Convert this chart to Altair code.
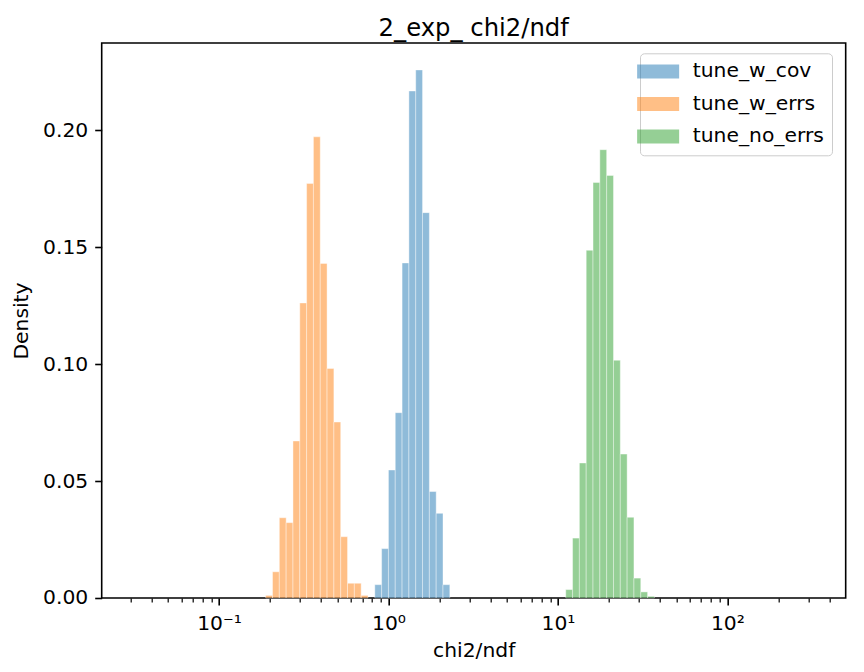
import altair as alt
import pandas as pd

# ---- data ----
series_names = ["tune_w_cov", "tune_w_errs", "tune_no_errs"]
series_colors = ["#1f77b4", "#ff7f0e", "#2ca02c"]

# common log-spaced bin grid: log10 of first edge and log10 bin width
bin_lo_log10 = -0.7246
bin_w_log10 = 0.04024

w_cov_start = 16
w_cov = [0.0057, 0.0211, 0.0547, 0.0792, 0.1432, 0.2167, 0.2257, 0.1647,
         0.0455, 0.0362, 0.0057]
w_errs_start = 0
w_errs = [0.0011, 0.0112, 0.0343, 0.0322, 0.0671, 0.1261, 0.1772, 0.1971,
          0.1430, 0.0981, 0.0752, 0.0262, 0.0063, 0.0063, 0.0011]
no_errs_start = 44
no_errs = [0.0036, 0.0256, 0.0577, 0.1486, 0.1776, 0.1916, 0.1806, 0.1016,
           0.0615, 0.0345, 0.0085, 0.0026, 0.0007]

major_ticks = [0.1, 1, 10, 100]
minor_ticks = [0.03, 0.04, 0.05, 0.06, 0.07, 0.08, 0.09,
               0.2, 0.3, 0.4, 0.5, 0.6, 0.7, 0.8, 0.9,
               2, 3, 4, 5, 6, 7, 8, 9,
               20, 30, 40, 50, 60, 70, 80, 90,
               200, 300, 400]
y_ticks = [0.0, 0.05, 0.10, 0.15, 0.20]
x_domain = [10 ** -1.6923, 10 ** 2.6978]
y_domain = [0, 0.2372]

# ---- build table ----
rows = []
for name, start, vals in [("tune_w_cov", w_cov_start, w_cov),
                          ("tune_w_errs", w_errs_start, w_errs),
                          ("tune_no_errs", no_errs_start, no_errs)]:
    for i, v in enumerate(vals):
        k = start + i
        rows.append({
            "series": name,
            "x0": 10 ** (bin_lo_log10 + k * bin_w_log10),
            "x1": 10 ** (bin_lo_log10 + (k + 1) * bin_w_log10),
            "density": v,
            "zero": 0.0,
        })
df = pd.DataFrame(rows)

FONT = "DejaVu Sans"
FS = 20.3

x_scale = alt.Scale(type="log", domain=x_domain, nice=False)

label_expr = ("datum.value < 0.5 ? '10⁻¹' : datum.value < 5 ? '10⁰' : "
              "datum.value < 50 ? '10¹' : '10²'")

bars = alt.Chart(df).mark_rect(
    fillOpacity=0.5, stroke="white", strokeOpacity=0.5, strokeWidth=0.8
).encode(
    x=alt.X("x0:Q", scale=x_scale,
            axis=alt.Axis(values=major_ticks, labelExpr=label_expr,
                          tickSize=7, tickWidth=1.6, tickColor="black",
                          labelPadding=24.5, labelBaseline="alphabetic",
                          labelFont=FONT, labelFontSize=FS, labelColor="black",
                          labelOverlap=False, labelFlush=False,
                          domain=False, grid=False,
                          title="chi2/ndf", titleFont=FONT, titleFontSize=FS,
                          titleFontWeight="normal", titleColor="black",
                          titleBaseline="alphabetic", titleX=372, titleY=59,
                          titleAlign="center", orient="bottom")),
    x2="x1:Q",
    y=alt.Y("density:Q", scale=alt.Scale(domain=y_domain, nice=False, zero=True),
            axis=alt.Axis(values=y_ticks, format=".2f",
                          tickSize=7, tickWidth=1.6, tickColor="black",
                          labelPadding=7, labelFont=FONT, labelFontSize=FS,
                          labelColor="black", domain=False, grid=False,
                          title="Density", titleFont=FONT, titleFontSize=FS,
                          titleFontWeight="normal", titleColor="black",
                          titleAngle=270, titleBaseline="alphabetic",
                          titleAlign="center", titleX=-74.3, titleY=277.5)),
    y2="zero:Q",
    color=alt.Color("series:N",
                    scale=alt.Scale(domain=series_names, range=series_colors),
                    legend=alt.Legend(
                        title=None, orient="none", legendX=538.3, legendY=10.3,
                        padding=8, symbolType="M-3,-1H3V1H-3Z",
                        symbolSize=196, symbolOpacity=0.5, symbolStrokeWidth=0,
                        labelFont=FONT, labelFontSize=FS, labelColor="black",
                        labelOffset=24.5, rowPadding=11.5,
                        fillColor="white", strokeColor="#cccccc",
                        cornerRadius=4)),
)

minor = alt.Chart(df).mark_rect(opacity=0).encode(
    x=alt.X("x0:Q", scale=x_scale,
            axis=alt.Axis(values=minor_ticks, labels=False, tickSize=4,
                          tickWidth=1.2, tickColor="black", domain=False,
                          grid=False, title=None, orient="bottom")),
    x2="x1:Q",
)

chart = alt.layer(bars, minor).resolve_axis(x="independent").properties(
    width=744, height=555,
    title=alt.TitleParams("2_exp_ chi2/ndf", font=FONT, fontSize=24.3,
                          fontWeight="normal", anchor="middle", frame="group",
                          baseline="alphabetic", offset=8, dy=25,
                          color="black"),
    autosize=alt.AutoSizeParams(type="none"),
    padding={"left": 93.7, "top": 35, "right": 10, "bottom": 64},
    background="white",
).configure_view(stroke="black", strokeWidth=1.6)

chart.save("out.html", embed_options={"renderer": "svg", "actions": False})
